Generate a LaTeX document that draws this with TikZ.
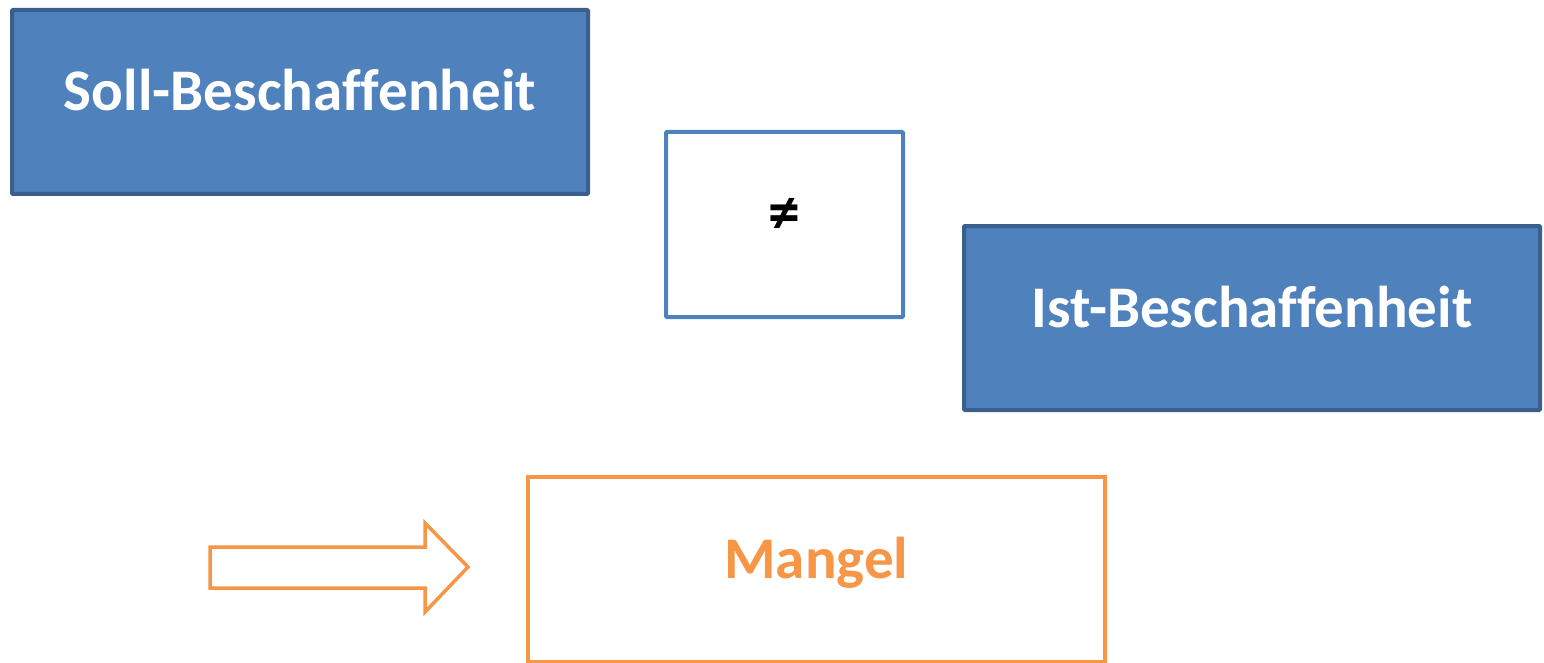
\documentclass[tikz,border=0pt]{standalone}
\usepackage{fontspec}
\setmainfont[Ligatures=NoCommon]{Carlito}
\definecolor{boxfill}{HTML}{4F81BD}
\definecolor{boxedge}{HTML}{3A5F8C}
\definecolor{mangel}{HTML}{F79646}
\begin{document}
\begin{tikzpicture}[x=1pt,y=-1pt,
  bluebox/.style={draw=boxedge,fill=boxfill,line width=4pt,rounded corners=1pt,
    text=white,font=\fontsize{59}{62}\selectfont\bfseries,
    minimum width=576pt,minimum height=184pt,inner sep=0pt,anchor=north west},
  relbox/.style={draw=boxfill,fill=white,line width=4pt,rounded corners=1pt,
    font=\fontsize{64}{68}\selectfont\bfseries,
    minimum width=237pt,minimum height=185pt,inner sep=0pt,anchor=north west},
  resultbox/.style={draw=mangel,fill=white,line width=3.5pt,
    text=mangel,font=\fontsize{59}{62}\selectfont\bfseries,
    minimum width=577pt,minimum height=185pt,inner sep=0pt,anchor=north west}]
\useasboundingbox (0,0) rectangle (1544,663);
\fill[white] (0,0) rectangle (1544,663);

\node[bluebox] (soll) at (10,8) {\raisebox{24pt}{Soll-Beschaffenheit}};
\node[relbox] (neq) at (664,130) {\raisebox{18pt}{≠}};
\node[bluebox] (ist) at (962,224) {\raisebox{22pt}{Ist-Beschaffenheit}};
\node[resultbox] (mangel) at (526,475) {\raisebox{22pt}{Mangel}};

% hollow block arrow pointing at the result
\draw[mangel,line width=3.5pt,miter limit=10]
  (210,547) -- (425,547) -- (425,523) -- (468,567) -- (425,612)
  -- (425,588) -- (210,588) -- cycle;
\end{tikzpicture}
\end{document}
